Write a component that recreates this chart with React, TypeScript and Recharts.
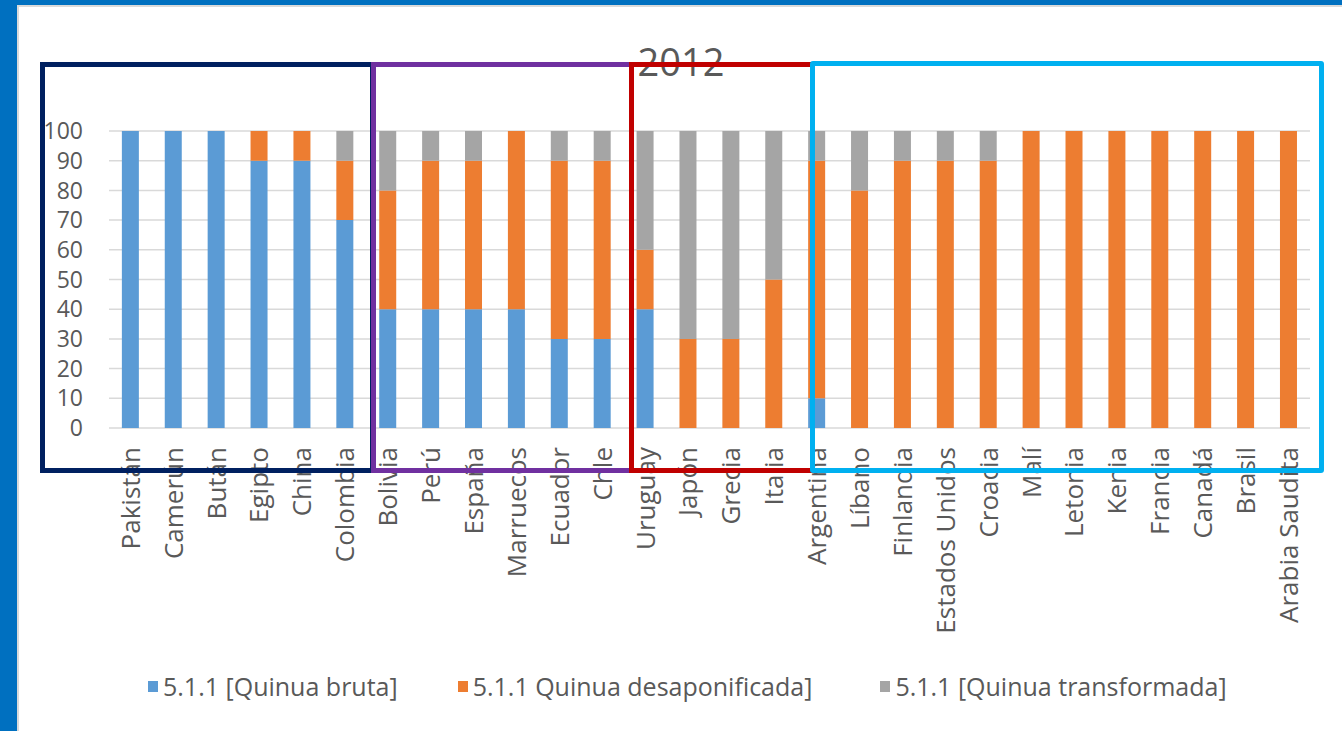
import React from 'react';
import { BarChart, Bar, XAxis, YAxis, CartesianGrid, Legend } from 'recharts';

const countries = [
    'Pakistán', 'Camerún', 'Bután', 'Egipto', 'China', 'Colombia',
    'Bolivia', 'Perú', 'España', 'Marruecos', 'Ecuador', 'Chle',
    'Uruguay', 'Japón', 'Grecia', 'Italia',
    'Argentina', 'Líbano', 'Finlandia', 'Estados Unidos', 'Croacia', 'Malí',
    'Letonia', 'Kenia', 'Francia', 'Canadá', 'Brasil', 'Arabia Saudita',
];

const bruta = [100, 100, 100, 90, 90, 70, 40, 40, 40, 40, 30, 30, 40, 0, 0, 0, 10, 0, 0, 0, 0, 0, 0, 0, 0, 0, 0, 0];
const desaponificada = [0, 0, 0, 10, 10, 20, 40, 50, 50, 60, 60, 60, 20, 30, 30, 50, 80, 80, 90, 90, 90, 100, 100, 100, 100, 100, 100, 100];
const transformada = [0, 0, 0, 0, 0, 10, 20, 10, 10, 0, 10, 10, 40, 70, 70, 50, 10, 20, 10, 10, 10, 0, 0, 0, 0, 0, 0, 0];

const yTicks = [0, 10, 20, 30, 40, 50, 60, 70, 80, 90, 100];

const series = [
    { key: 'bruta', name: '5.1.1 [Quinua bruta]', color: '#5B9BD5' },
    { key: 'desaponificada', name: '5.1.1 Quinua desaponificada]', color: '#ED7D31' },
    { key: 'transformada', name: '5.1.1 [Quinua transformada]', color: '#A5A5A5' },
];

const data = countries.map((name, i) => ({
    name,
    bruta: bruta[i],
    desaponificada: desaponificada[i],
    transformada: transformada[i],
}));

const FONT = '"Open Sans", sans-serif';
const TEXT = '#595959';

const XTick: React.FC<any> = ({ x, y, payload }) => (
    <text
        x={x}
        y={y + 11}
        transform={`rotate(-90, ${x}, ${y + 11})`}
        textAnchor="end"
        dy="0.36em"
        fontSize={26}
        fontFamily={FONT}
        fill={TEXT}
    >
        {payload.value}
    </text>
);

const LegendContent: React.FC = () => (
    <div style={{ height: 60, display: 'flex', justifyContent: 'flex-start', alignItems: 'flex-start', paddingLeft: 148, fontFamily: FONT, fontSize: 25, color: TEXT, lineHeight: '30px' }}>
        {series.map((s, i) => (
            <div key={s.key} style={{ display: 'flex', alignItems: 'center', marginRight: i === 0 ? 60 : 68 }}>
                <span style={{ width: 10, height: 11, background: s.color, marginRight: 5, display: 'inline-block' }} />
                <span>{s.name}</span>
            </div>
        ))}
    </div>
);

const boxes = [
    { left: 40, top: 62, width: 335, height: 411, color: '#002060' },
    { left: 371, top: 62, width: 263, height: 411, color: '#7030A0' },
    { left: 629, top: 62, width: 186, height: 411, color: '#C00000' },
    { left: 810, top: 61, width: 514, height: 412, color: '#00B0F0' },
];

const App: React.FC = () => {
    return (
        <div style={{ position: 'absolute', left: 0, top: 0, width: 1342, height: 731, background: '#ffffff', overflow: 'hidden' }}>
            {/* page frame */}
            <div style={{ position: 'absolute', left: 0, top: 0, width: 1342, height: 5, background: '#0070C0' }} />
            <div style={{ position: 'absolute', left: 17, top: 5, width: 1325, height: 2, background: '#DADADA' }} />
            <div style={{ position: 'absolute', left: 0, top: 0, width: 17, height: 731, background: '#0070C0' }} />
            <div style={{ position: 'absolute', left: 17, top: 5, width: 2, height: 726, background: '#DADADA' }} />

            <div style={{ position: 'absolute', left: 0, top: 0 }}>
                <BarChart
                    width={1342}
                    height={731}
                    data={data}
                    margin={{ top: 131, right: 32, left: 0, bottom: 0 }}
                    barCategoryGap="30%"
                >
                    <CartesianGrid vertical={false} stroke="#D9D9D9" strokeWidth={1.5} />
                    <XAxis
                        dataKey="name"
                        interval={0}
                        axisLine={false}
                        tickLine={false}
                        height={243}
                        tick={<XTick />}
                    />
                    <YAxis
                        domain={[0, 100]}
                        ticks={yTicks}
                        interval={0}
                        width={109}
                        axisLine={false}
                        tickLine={false}
                        tickSize={0}
                        tickMargin={26}
                        tick={{ fontSize: 23, fontFamily: FONT, fill: TEXT }}
                    />
                    <Legend verticalAlign="bottom" height={60} content={<LegendContent />} />
                    {series.map((s) => (
                        <Bar key={s.key} dataKey={s.key} name={s.name} stackId="a" fill={s.color} isAnimationActive={false} />
                    ))}
                </BarChart>
            </div>

            <div style={{ position: 'absolute', left: 581, top: 36, width: 200, textAlign: 'center', fontFamily: FONT, fontSize: 38, color: TEXT, lineHeight: '50px' }}>
                2012
            </div>

            {boxes.map((b, i) => (
                <div
                    key={i}
                    style={{
                        position: 'absolute',
                        left: b.left,
                        top: b.top,
                        width: b.width,
                        height: b.height,
                        border: `5px solid ${b.color}`,
                        boxSizing: 'border-box',
                        borderRadius: i === 3 ? 3 : 0,
                    }}
                />
            ))}
        </div>
    );
};

export default App;
